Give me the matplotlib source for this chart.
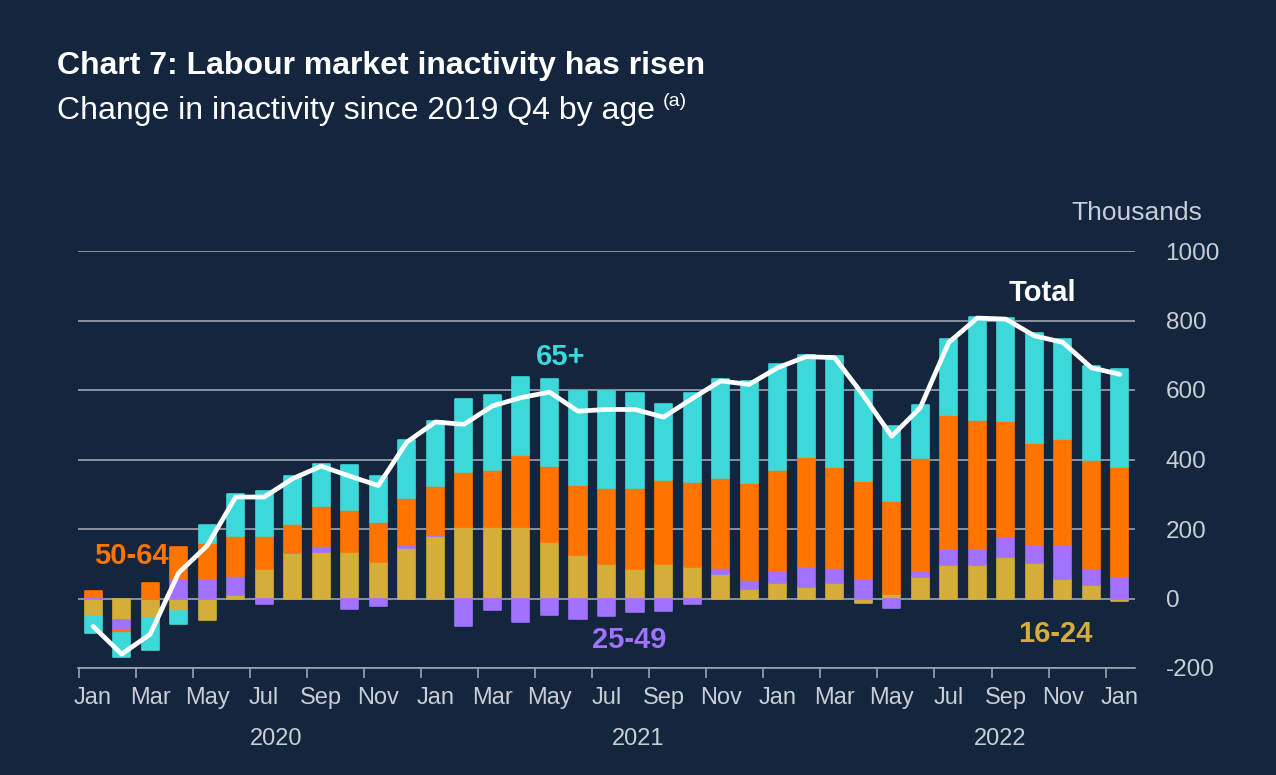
import numpy as np
import matplotlib
matplotlib.use("Agg")
import matplotlib.pyplot as plt

plt.rcParams["font.family"] = ["Liberation Sans", "DejaVu Sans"]
plt.rcParams["axes.unicode_minus"] = False

# monthly data, Jan 2020 - Jan 2023, thousands
months = ["Jan", "Feb", "Mar", "Apr", "May", "Jun", "Jul", "Aug", "Sep", "Oct", "Nov", "Dec"] * 3 + ["Jan"]
years = ["2020", "2021", "2022"]

age_16_24 = [-50, -62, -56, -36, -61, 9, 84, 130, 133, 133, 104, 145, 181, 206, 206, 206, 164, 126, 99,
             86, 99, 92, 70, 27, 44, 32, 44, -12, 12, 61, 96, 96, 118, 102, 57, 38, -8]
age_25_49 = [3, -29, 0, 55, 55, 56, -17, 4, 19, -30, -23, 10, 3, -78, -33, -68, -47, -59, -49,
             -39, -36, -16, 19, 27, 34, 60, 45, 56, -28, 17, 46, 46, 58, 52, 98, 48, 63]
age_50_64 = [18, -7, 45, 92, 106, 114, 95, 80, 113, 121, 115, 133, 139, 157, 165, 208, 217, 202, 219,
             232, 241, 243, 258, 277, 291, 316, 290, 283, 270, 327, 386, 373, 335, 294, 303, 314, 315]
age_65_plus = [-50, -70, -91, -37, 51, 122, 129, 138, 121, 129, 133, 168, 188, 212, 214, 224, 252, 269, 279,
               272, 219, 257, 284, 295, 305, 292, 319, 261, 214, 152, 218, 296, 295, 315, 288, 269, 282]
total = [-80, -160, -103, 74, 152, 292, 292, 345, 381, 352, 325, 450, 508, 501, 554, 578, 594, 539, 544,
         544, 522, 575, 626, 616, 664, 696, 693, 585, 467, 549, 737, 807, 804, 756, 737, 664, 645]

bg = "#14253e"
grey = "#c9ced6"
grid_col = "#9da4ad"
series = [
    (age_16_24, "#d4ae38"),
    (age_25_49, "#a072ff"),
    (age_50_64, "#ff7300"),
    (age_65_plus, "#3dd8d9"),
]

W, H = 1276, 775
fig = plt.figure(figsize=(W / 100, H / 100), dpi=100, facecolor=bg)
ax = fig.add_axes([78 / W, 1 - 668 / H, (1135 - 78) / W, (668 - 251) / H], facecolor=bg)

x = np.arange(len(total))
pos_bottom = np.zeros(len(x))
neg_bottom = np.zeros(len(x))
for vals, col in series:
    v = np.array(vals, dtype=float)
    bottom = np.where(v >= 0, pos_bottom, neg_bottom)
    ax.bar(x, v, bottom=bottom, width=0.6, color=col, edgecolor=col, linewidth=1.2,
           joinstyle="round", zorder=2)
    pos_bottom += np.clip(v, 0, None)
    neg_bottom += np.clip(v, None, 0)

ax.plot(x, total, color="white", lw=3.4, solid_joinstyle="round", solid_capstyle="round", zorder=3)

ax.set_xlim(-0.53, len(x) - 0.47)
ax.set_ylim(-200, 1000)
ax.set_axisbelow(True)
ax.yaxis.grid(True, color=grid_col, lw=1.2)
ax.yaxis.tick_right()
ax.set_yticks(range(-200, 1001, 200))
ax.tick_params(axis="y", length=0, pad=22, labelsize=17.5, labelcolor=grey)
for s in ["top", "left", "right"]:
    ax.spines[s].set_visible(False)
ax.spines["bottom"].set_color(grid_col)
ax.spines["bottom"].set_linewidth(1.2)

# ticks between every second month, labels under bars
ax.set_xticks(np.arange(-0.5, len(x), 2))
ax.set_xticklabels([])
ax.tick_params(axis="x", which="major", length=7, width=1.2, color=grid_col, direction="out")
ax.set_xticks(x[::2], minor=True)
ax.set_xticklabels(months[::2], minor=True)
ax.tick_params(axis="x", which="minor", length=0, pad=14, labelsize=17, labelcolor=grey)

for i, yr in enumerate(years):
    ax.text(6.4 + 12.7 * i, -405, yr, ha="center", va="center", fontsize=17, color=grey)

# series labels
lab = dict(fontsize=21, fontweight="bold", ha="center", va="center")
ax.text(1.33, 121, "50-64", color="#ff7300", **lab)
ax.text(16.4, 695, "65+", color="#3dd8d9", **lab)
ax.text(18.8, -118, "25-49", color="#a072ff", **lab)
ax.text(33.75, -103, "16-24", color="#d4ae38", **lab)
ax.text(33.3, 880, "Total", color="white", **lab)

fig.text(1202 / W, 1 - 213 / H, "Thousands", color=grey, fontsize=19, ha="right", va="center")

fig.text(57 / W, 1 - 66 / H, "Chart 7: Labour market inactivity has risen", color="white",
         fontsize=23, fontweight="bold", ha="left", va="center")
sub = fig.text(57 / W, 1 - 111 / H, "Change in inactivity since 2019 Q4 by age", color="white",
               fontsize=23, ha="left", va="center")
fig.canvas.draw()
bb = sub.get_window_extent()
fig.text((bb.x1 + 8) / W, 1 - 101 / H, "(a)", color="white", fontsize=14, ha="left", va="center")

fig.savefig("out.png", dpi=100, facecolor=bg)
